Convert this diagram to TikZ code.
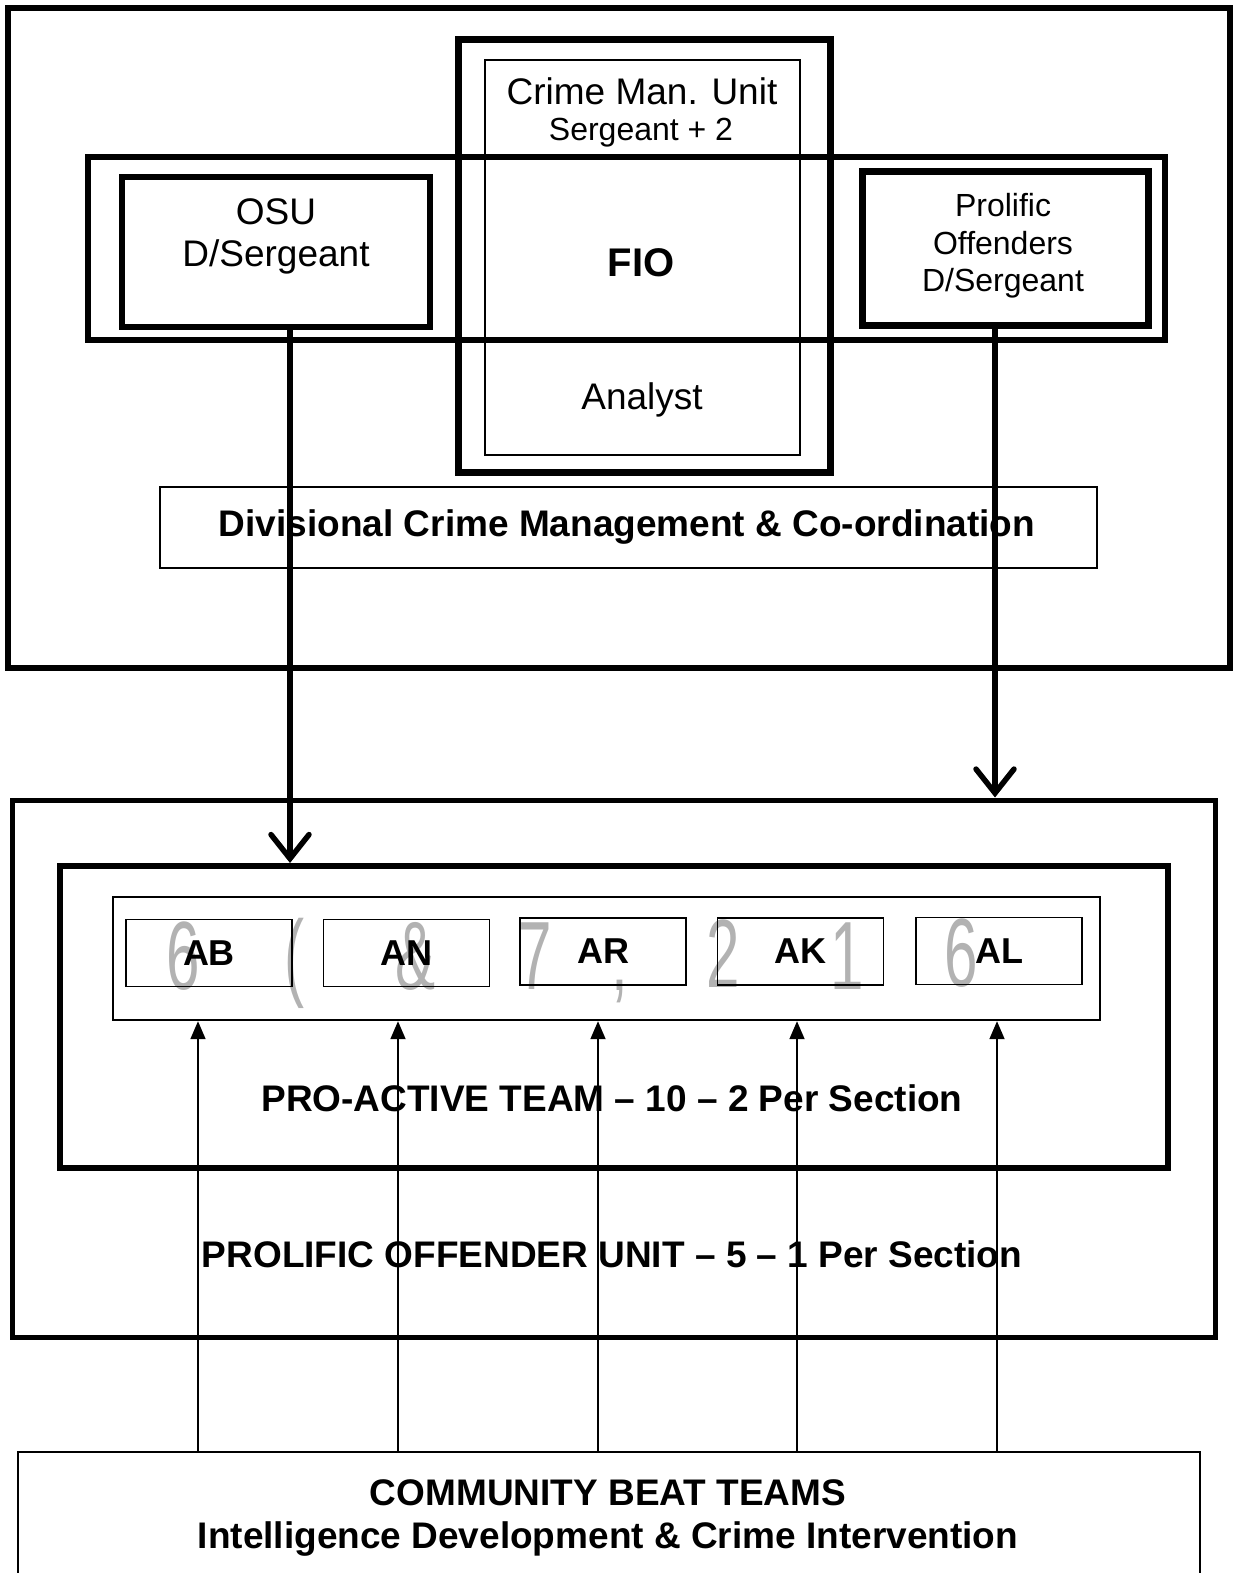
\documentclass[tikz,border=0pt]{standalone}
\usepackage{fontspec}
\setmainfont{Liberation Sans}
\usetikzlibrary{arrows.meta}

\begin{document}
\begin{tikzpicture}[x=1pt, y=-1pt,
    thickbox/.style={draw, line width=6pt, inner sep=0pt},
    thinbox/.style={draw, line width=1.6pt, inner sep=0pt},
    teambox/.style={thinbox, minimum width=166pt, minimum height=67pt,
        font=\fontsize{36}{40}\selectfont\bfseries},
    plain/.style={inner sep=0pt, align=center},
    ghost/.style={inner sep=0pt, text=gray!60, font=\fontsize{97}{97}\selectfont},
    downarrow/.style={line width=5.5pt, -{Straight Barb[length=24pt,width=38pt,line cap=round]}},
    uparrow/.style={line width=1.8pt, -{Triangle[length=18pt,width=15pt]}}]
    \useasboundingbox (0,0) rectangle (1237,1573);

    % top half: divisional crime management
    \node[thickbox, minimum width=1222pt, minimum height=660pt] (top) at (619,338) {};
    \node[thickbox, line width=7pt, minimum width=372pt, minimum height=432pt] (cmu) at (644,256) {};
    \node[thinbox, line width=2.4pt, minimum width=315pt, minimum height=395pt] (cmuin) at (642.5,257.5) {};
    \node[thickbox, minimum width=1077pt, minimum height=183pt] (band) at (626.5,248.5) {};
    \node[thickbox, minimum width=308pt, minimum height=150pt] (osu) at (276,252) {};
    \node[thickbox, line width=7pt, minimum width=286pt, minimum height=153pt] (pro) at (1005,248.5) {};
    \node[thinbox, minimum width=937pt, minimum height=81pt] (dcm) at (628.5,527.5) {};

    \node[plain, font=\fontsize{37}{40}\selectfont] (cmuname) at (642,91) {Crime Man. Unit};
    \node[plain, font=\fontsize{32}{36}\selectfont] (cmustaff) at (641,133) {Sergeant + 2};
    \node[plain, font=\fontsize{40}{44}\selectfont\bfseries] (fio) at (641,263) {FIO};
    \node[plain, font=\fontsize{37}{40}\selectfont] (analyst) at (642,400) {Analyst};
    \node[plain, font=\fontsize{37}{42}\selectfont] (osutext) at (276,236) {OSU\\D/Sergeant};
    \node[plain, font=\fontsize{32}{37.5}\selectfont] (protext) at (1003,246) {Prolific\\Offenders\\D/Sergeant};
    \node[plain, font=\fontsize{37}{40}\selectfont\bfseries] (dcmtext) at (627,527) {Divisional Crime Management \& Co-ordination};

    % bottom half: prolific offender unit
    \node[thickbox, line width=5pt, minimum width=1203pt, minimum height=537pt] (pou) at (613.5,1068.5) {};
    \node[thickbox, minimum width=1108pt, minimum height=302pt] (pat) at (614,1017) {};
    \node[thinbox, line width=2.4pt, minimum width=987pt, minimum height=123pt] (row) at (606.5,958.5) {};

    \node[ghost] (g1) at (183,956) {\scalebox{0.62}[1]{6}};
    \node[ghost] (g2) at (295,963) {\scalebox{0.62}[1]{(}};
    \node[ghost] (g3) at (416,956) {\scalebox{0.62}[1]{\&}};
    \node[ghost] (g4) at (535,956) {\scalebox{0.62}[1]{7}};
    \node[ghost] (g5) at (620,992) {\scalebox{0.62}[1]{,}};
    \node[ghost] (g6) at (723,954) {\scalebox{0.62}[1]{2}};
    \node[ghost] (g7) at (847,956) {\scalebox{0.62}[1]{1}};
    \node[ghost] (g8) at (961,953) {\scalebox{0.62}[1]{6}};

    \node[teambox] (ab) at (209,953) {AB};
    \node[teambox] (an) at (406.5,953) {AN};
    \node[teambox] (ar) at (603,951.5) {AR};
    \node[teambox] (ak) at (800.5,951.5) {AK};
    \node[teambox] (al) at (999,951) {AL};

    \node[plain, font=\fontsize{37}{40}\selectfont\bfseries] (pattext) at (612,1098) {PRO-ACTIVE TEAM -- 10 -- 2 Per Section};
    \node[plain, font=\fontsize{37}{40}\selectfont\bfseries] (poutext) at (612,1254) {PROLIFIC OFFENDER UNIT -- 5 -- 1 Per Section};

    % community beat teams
    \node[thinbox, minimum width=1182pt, minimum height=140pt] (cbt) at (609,1522) {};
    \node[plain, font=\fontsize{37}{43}\selectfont\bfseries] (cbttext) at (608,1518) {COMMUNITY BEAT TEAMS\\Intelligence Development \& Crime Intervention};

    % tasking arrows
    \coordinate (osux) at (290,0);
    \coordinate (prox) at (995,0);
    \draw[downarrow] (osu.south -| osux) -- (pat.north -| osux);
    \draw[downarrow] (pro.south -| prox) -- (pou.north -| prox);

    \foreach \x [count=\i] in {198,398,598,797,997} {
        \coordinate (u\i) at (\x,0);
        \draw[uparrow] (u\i |- cbt.north) -- (u\i |- row.south);
    }
\end{tikzpicture}
\end{document}
